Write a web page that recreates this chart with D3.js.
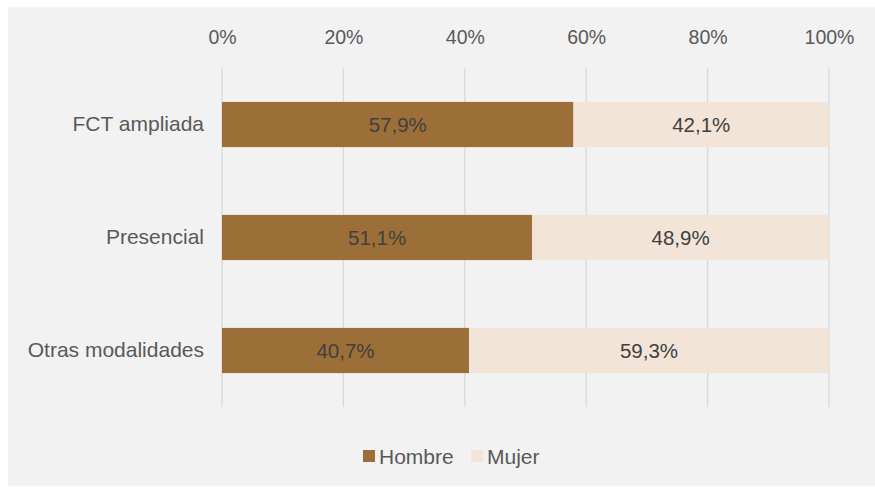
<!DOCTYPE html>
<html><head><meta charset="utf-8">
<script src="https://cdn.jsdelivr.net/npm/d3@7"></script>
<style>body{margin:0;background:#fff;}svg{display:block;font-family:"Liberation Sans",Arial,sans-serif;}</style>
</head><body>
<svg id="c" width="875" height="487"></svg>
<script>
const categories = ["FCT ampliada", "Presencial", "Otras modalidades"];
const hombre = [57.9, 51.1, 40.7];
const mujer = [42.1, 48.9, 59.3];
const seriesNames = ["Hombre", "Mujer"];
const tickValues = [0, 20, 40, 60, 80, 100];
const colors = ["#9c6e38", "#f2e4d6"];

const svg = d3.select("#c");
svg.append("rect").attr("x", 8).attr("y", 7).attr("width", 867).attr("height", 479).attr("fill", "#f2f2f2");

const x = d3.scaleLinear().domain([0, 100]).range([222, 829]);
const y = d3.scaleBand().domain(categories).range([68, 407]).paddingInner(0.6).paddingOuter(0.3);

const textColor = "#595959";
// gridlines
svg.append("g").selectAll("line").data(tickValues).join("line")
  .attr("x1", d => x(d)).attr("x2", d => x(d)).attr("y1", 68).attr("y2", 407)
  .attr("stroke", "#d9d9d9").attr("stroke-width", 1.3);

// top axis
const axis = d3.axisTop(x).tickValues(tickValues).tickFormat(d => d + "%").tickSize(0).tickPadding(0);
const ag = svg.append("g").attr("transform", "translate(0,44)").call(axis);
ag.select(".domain").remove();
ag.selectAll("text").attr("fill", textColor).style("font-size", "19.5px").attr("dy", 0);

// category labels
const yAxis = d3.axisLeft(y).tickSize(0).tickPadding(0);
const yg = svg.append("g").attr("transform", "translate(204,0)").call(yAxis);
yg.select(".domain").remove();
yg.selectAll("text").attr("fill", textColor).style("font-size", "21px");

const fmt = v => v.toFixed(1).replace(".", ",") + "%";
const stacked = [hombre, mujer];
stacked.forEach((vals, si) => {
  const g = svg.append("g");
  const start = (i) => si === 0 ? 0 : hombre[i];
  g.selectAll("rect").data(vals).join("rect")
    .attr("x", (d, i) => x(start(i)))
    .attr("y", (d, i) => y(categories[i]))
    .attr("width", (d, i) => x(start(i) + d) - x(start(i)))
    .attr("height", y.bandwidth())
    .attr("fill", colors[si]);
  g.selectAll("text").data(vals).join("text")
    .attr("x", (d, i) => x(start(i) + d / 2))
    .attr("y", (d, i) => y(categories[i]) + y.bandwidth() / 2)
    .attr("dy", "0.35em").attr("text-anchor", "middle")
    .attr("fill", "#404040").style("font-size", "20.5px")
    .text(d => fmt(d));
});

// legend
const legend = svg.append("g");
const lx = [363, 471];
seriesNames.forEach((n, i) => {
  legend.append("rect").attr("x", lx[i]).attr("y", 450).attr("width", 12).attr("height", 12).attr("fill", colors[i]);
  legend.append("text").attr("x", lx[i] + 16).attr("y", 457).attr("dy", "0.35em")
    .attr("fill", textColor).style("font-size", "21px").text(n);
});
</script>
</body></html>
